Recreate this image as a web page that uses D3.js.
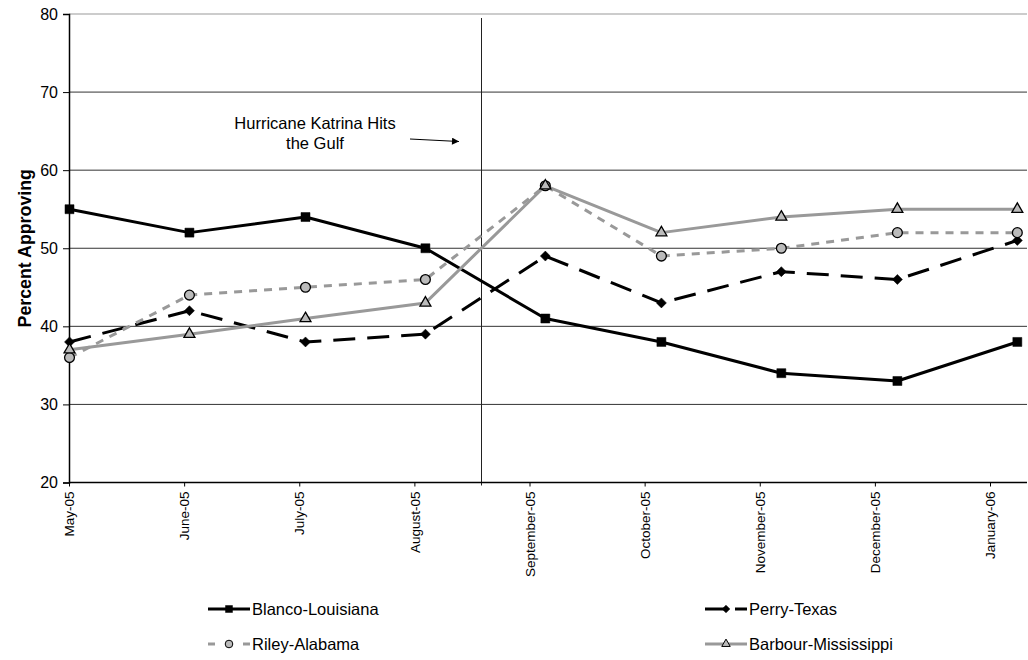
<!DOCTYPE html>
<html>
<head>
<meta charset="utf-8">
<script src="https://cdn.jsdelivr.net/npm/d3@7/dist/d3.min.js"></script>
<style>
  html, body { margin: 0; padding: 0; background: #fff; }
  svg { display: block; font-family: "Liberation Sans", Arial, sans-serif; }
</style>
</head>
<body>
<svg id="chart" width="1028" height="660"></svg>
<script>
// Survey months (first of each month) and approval ratings, in percent
const surveyDates = ["2005-05-01", "2005-06-01", "2005-07-01", "2005-08-01", "2005-09-01",
                     "2005-10-01", "2005-11-01", "2005-12-01", "2006-01-01"];
const tickLabels = ["May-05", "June-05", "July-05", "August-05", "September-05",
                    "October-05", "November-05", "December-05", "January-06"];
const blancoLouisiana   = [55, 52, 54, 50, 41, 38, 34, 33, 38];
const perryTexas        = [38, 42, 38, 39, 49, 43, 47, 46, 51];
const rileyAlabama      = [36, 44, 45, 46, 58, 49, 50, 52, 52];
const barbourMississippi = [37, 39, 41, 43, 58, 52, 54, 55, 55];
const yTicks = [20, 30, 40, 50, 60, 70, 80];
const katrinaDate = "2005-08-15T12:00";

const parse = d3.utcParse("%Y-%m-%d");
const parseT = d3.utcParse("%Y-%m-%dT%H:%M");
const dates = surveyDates.map(parse);

const series = [
  { name: "Blanco-Louisiana", values: blancoLouisiana, color: "#000", width: 3, dash: null,
    legendDash: null, marker: "square", fill: "#000", mstroke: "#000" },
  { name: "Perry-Texas", values: perryTexas, color: "#000", width: 3, dash: "22,12",
    legendDash: "21,9,12", marker: "diamond", fill: "#000", mstroke: "#000" },
  { name: "Riley-Alabama", values: rileyAlabama, color: "#999", width: 3, dash: "8,7",
    legendDash: "7,28,7", marker: "circle", fill: "#bbb", mstroke: "#000" },
  { name: "Barbour-Mississippi", values: barbourMississippi, color: "#999", width: 3, dash: null,
    legendDash: null, marker: "triangle", fill: "#bbb", mstroke: "#000" }
];

const svg = d3.select("#chart");
const plotLeft = 69, plotRight = 1027, plotTop = 14, plotBottom = 482.5;

const x = d3.scaleUtc()
  .domain([parse("2005-05-01"), parseT("2006-01-03T12:00")])
  .range([plotLeft + 0.5, plotRight]);
const xTick = d3.scalePoint().domain(tickLabels).range([plotLeft, 990]);
const y = d3.scaleLinear().domain([20, 80]).range([plotBottom, plotTop]);

// Horizontal gridlines
svg.append("g").selectAll("line")
  .data(yTicks.filter(v => v > 20))
  .join("line")
  .attr("x1", plotLeft).attr("x2", plotRight)
  .attr("y1", d => y(d)).attr("y2", d => y(d))
  .attr("stroke", d => d === 80 ? "#999" : "#333")
  .attr("stroke-width", 1);

// Hurricane marker line
svg.append("line")
  .attr("x1", x(parseT(katrinaDate))).attr("x2", x(parseT(katrinaDate)))
  .attr("y1", 18).attr("y2", plotBottom + 3)
  .attr("stroke", "#222").attr("stroke-width", 1);

// Y axis
const yAxis = svg.append("g").attr("transform", `translate(${plotLeft},0)`)
  .call(d3.axisLeft(y).tickValues(yTicks).tickSize(6).tickPadding(5));
yAxis.select(".domain").attr("stroke", "#000").attr("stroke-width", 1.5);
yAxis.selectAll(".tick line").attr("stroke", "#000");
yAxis.selectAll("text").attr("font-size", 16).attr("fill", "#000")
  .attr("font-family", "'Liberation Sans', Arial, sans-serif");

// X axis
const xAxis = svg.append("g").attr("transform", `translate(0,${plotBottom})`)
  .call(d3.axisBottom(xTick).tickSize(4).tickSizeOuter(0));
xAxis.select(".domain").attr("d", `M${plotLeft},0H${plotRight}`).attr("stroke", "#000").attr("stroke-width", 1.5);
xAxis.selectAll(".tick line").attr("stroke", "#000");
xAxis.selectAll("text")
  .attr("font-size", 13.5).attr("fill", "#000")
  .attr("font-family", "'Liberation Sans', Arial, sans-serif")
  .attr("text-anchor", "end")
  .attr("transform", "rotate(-90)")
  .attr("x", -9).attr("y", 0).attr("dy", "0.35em");

// Y axis title
svg.append("text")
  .attr("transform", `translate(31,${(plotTop + plotBottom) / 2}) rotate(-90)`)
  .attr("text-anchor", "middle")
  .attr("font-size", 17.8).attr("font-weight", "bold")
  .text("Percent Approving");

// Markers
const markerShape = {
  square:   { type: d3.symbolSquare,   size: 81, rotate: 0 },
  diamond:  { type: d3.symbolSquare,   size: 50, rotate: 45 },
  circle:   { type: d3.symbolCircle,   size: 76, rotate: 0 },
  triangle: { type: d3.symbolTriangle, size: 52, rotate: 0 }
};
const markerPath = (m, scale = 1) => d3.symbol().type(markerShape[m].type).size(markerShape[m].size * scale)();

const line = d3.line().x((d, i) => x(dates[i])).y(d => y(d));

const plot = svg.append("g");
series.forEach(s => {
  plot.append("path")
    .attr("d", line(s.values))
    .attr("fill", "none")
    .attr("stroke", s.color)
    .attr("stroke-width", s.width)
    .attr("stroke-dasharray", s.dash)
    .attr("stroke-linejoin", "round");
});
series.forEach(s => {
  plot.append("g").selectAll("path")
    .data(s.values)
    .join("path")
    .attr("transform", (d, i) => `translate(${x(dates[i])},${y(d)}) rotate(${markerShape[s.marker].rotate})`)
    .attr("d", markerPath(s.marker))
    .attr("fill", s.fill)
    .attr("stroke", s.mstroke)
    .attr("stroke-width", s.marker === "square" || s.marker === "diamond" ? 0.5 : 1.3);
});

// Annotation
const ann = svg.append("text").attr("text-anchor", "middle").attr("font-size", 16.5).attr("fill", "#000");
ann.append("tspan").attr("x", 315).attr("y", 129).text("Hurricane Katrina Hits");
ann.append("tspan").attr("x", 315).attr("y", 149).text("the Gulf");

svg.append("defs").append("marker")
  .attr("id", "arrowhead").attr("viewBox", "0 0 10 10")
  .attr("refX", 10).attr("refY", 5)
  .attr("markerWidth", 9).attr("markerHeight", 7)
  .attr("markerUnits", "userSpaceOnUse")
  .attr("orient", "auto")
  .append("path").attr("d", "M0,0L10,5L0,10Z").attr("fill", "#000");
svg.append("line")
  .attr("x1", 410).attr("y1", 139).attr("x2", 459).attr("y2", 141.5)
  .attr("stroke", "#000").attr("stroke-width", 1.2)
  .attr("marker-end", "url(#arrowhead)");

// Legend
const legendPos = [[208, 609], [705, 609], [208, 644], [705, 644]];
const legend = svg.append("g");
series.forEach((s, i) => {
  const [lx, ly] = legendPos[i];
  const g = legend.append("g").attr("transform", `translate(${lx},${ly})`);
  g.append("line")
    .attr("x1", 0).attr("x2", 42).attr("y1", 0).attr("y2", 0)
    .attr("stroke", s.color).attr("stroke-width", s.width)
    .attr("stroke-dasharray", s.legendDash);
  g.append("path")
    .attr("transform", `translate(21,0) rotate(${markerShape[s.marker].rotate})`)
    .attr("d", markerPath(s.marker, 0.6))
    .attr("fill", s.fill).attr("stroke", s.mstroke)
    .attr("stroke-width", s.marker === "square" || s.marker === "diamond" ? 0.5 : 1);
  g.append("text")
    .attr("x", 44).attr("y", 0).attr("dy", "0.35em")
    .attr("font-size", 16.5).attr("fill", "#000")
    .text(s.name);
});
</script>
</body>
</html>
